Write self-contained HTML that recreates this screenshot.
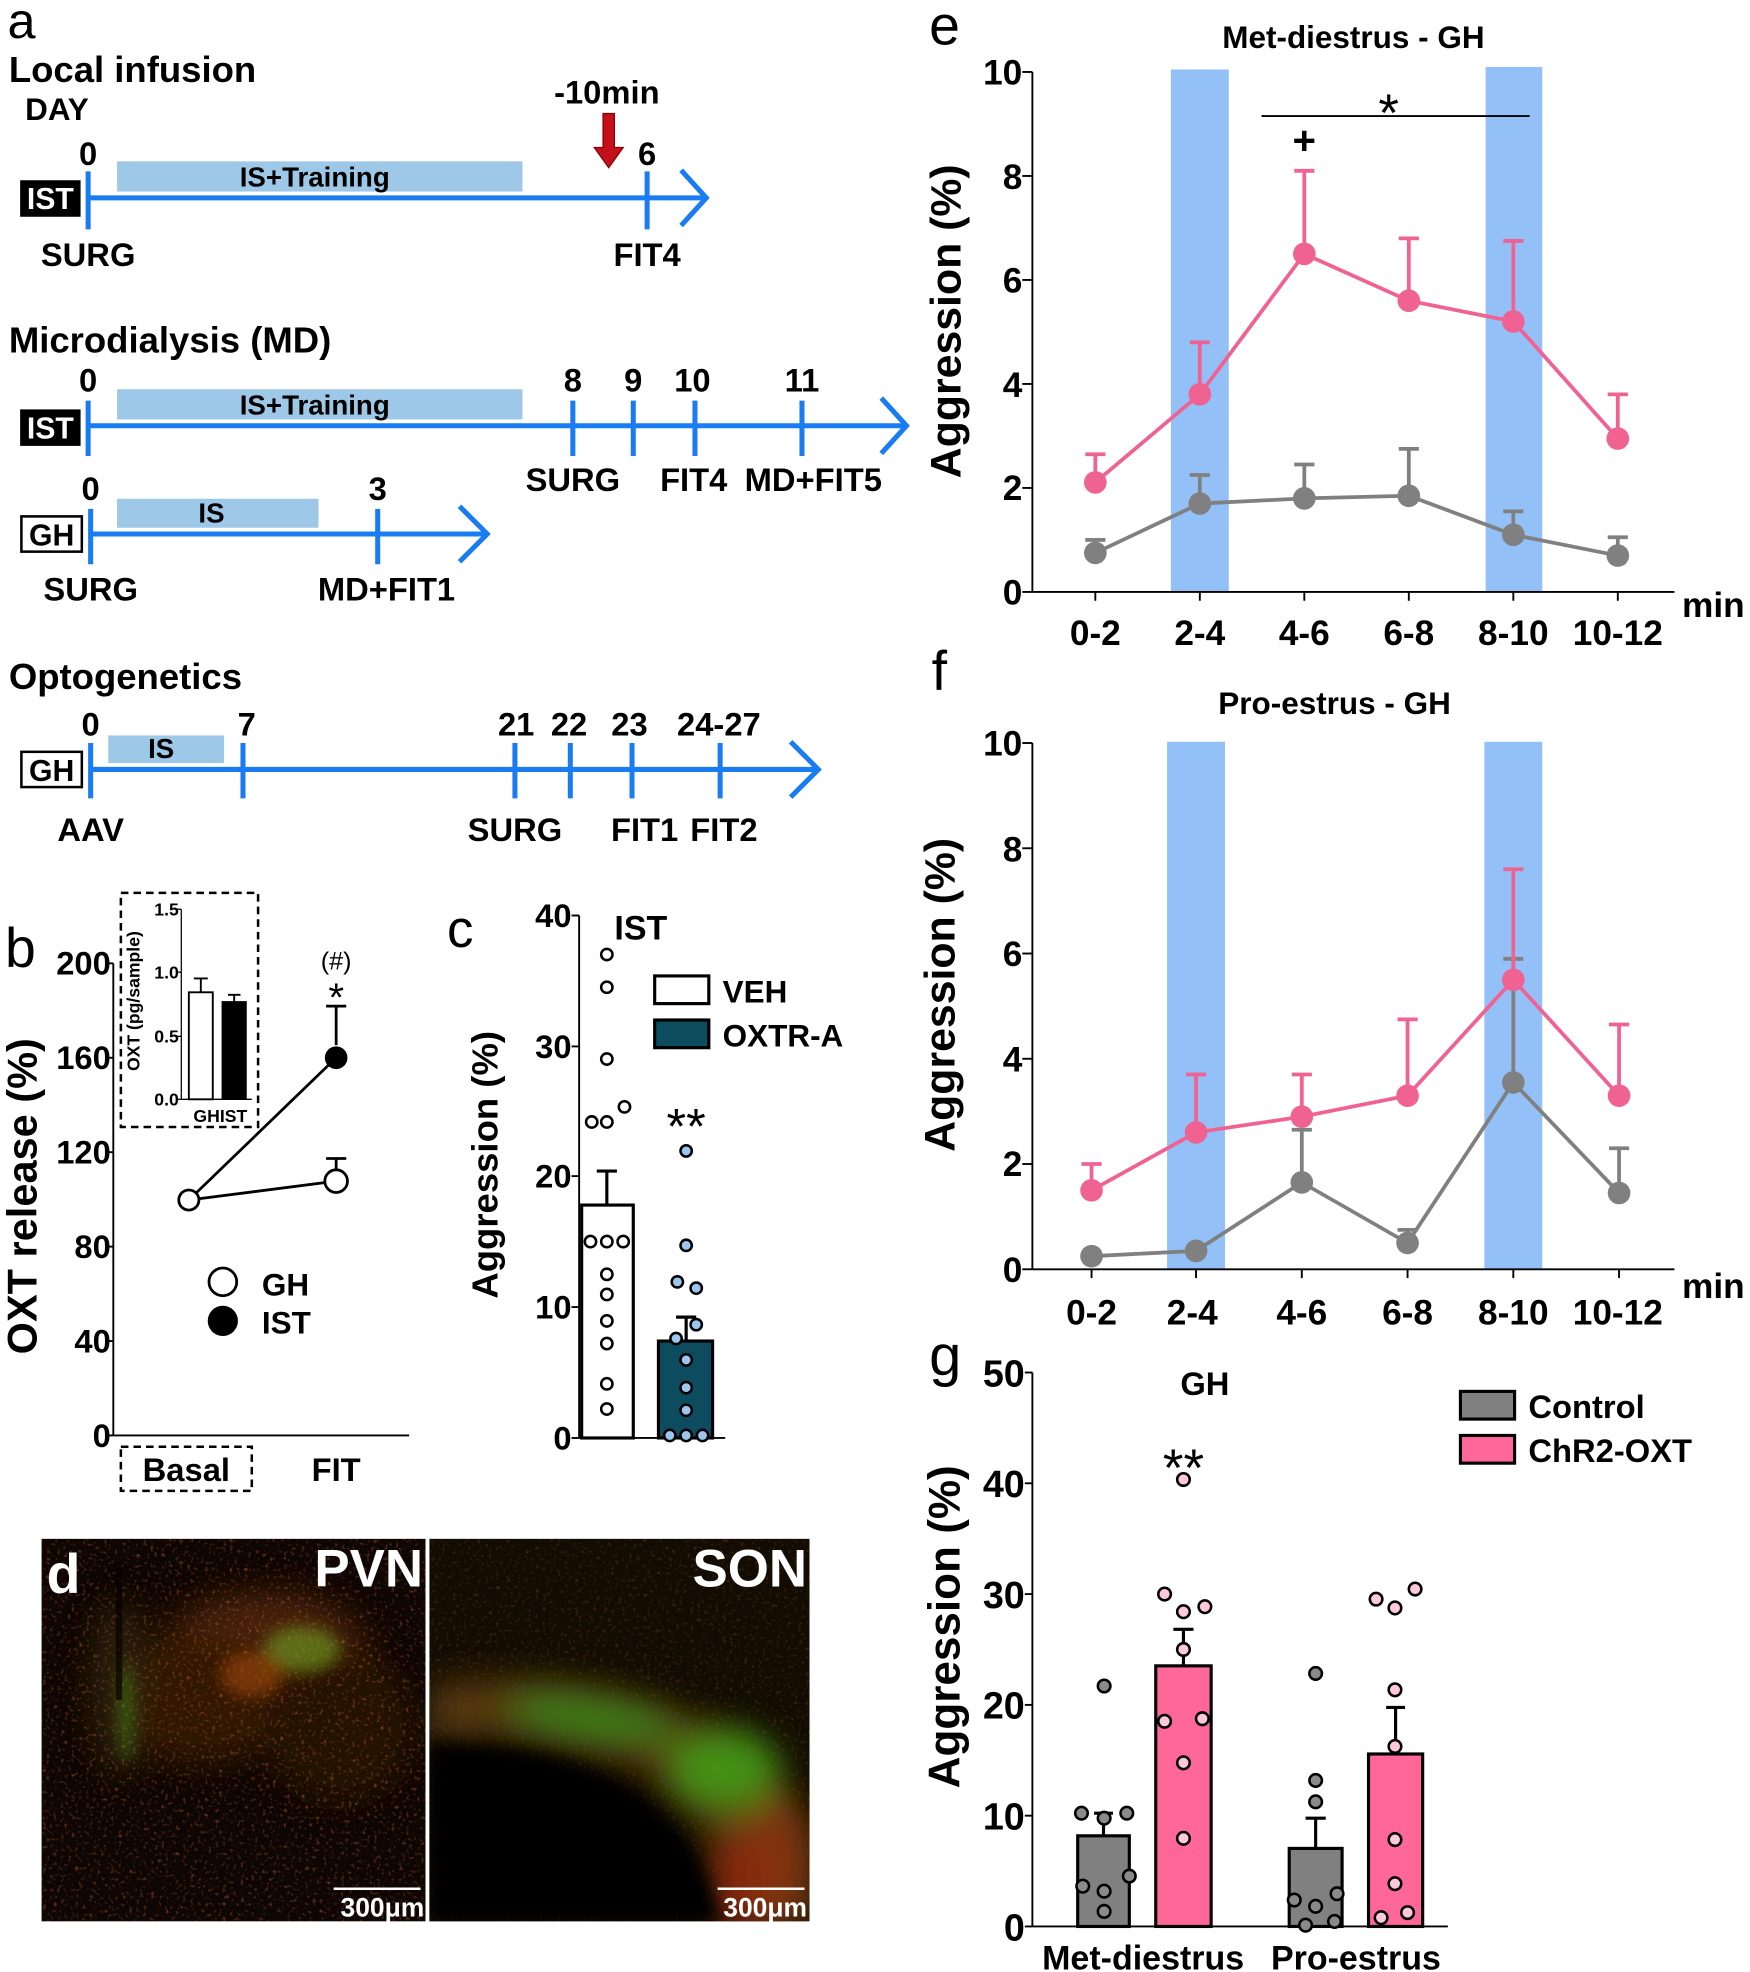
<!DOCTYPE html>
<html><head><meta charset="utf-8"><style>
html,body{margin:0;padding:0;background:#fff}
svg{display:block}
text{font-family:"Liberation Sans",sans-serif;font-weight:bold}
.n{font-family:"Liberation Sans Narrow","Liberation Sans",sans-serif}
</style></head><body>
<svg width="1750" height="1972" viewBox="0 0 1390 1566" xmlns="http://www.w3.org/2000/svg">
<defs>
<filter id="bl" x="-50%" y="-50%" width="200%" height="200%"><feGaussianBlur stdDeviation="14"/></filter>
<filter id="bl2" x="-50%" y="-50%" width="200%" height="200%"><feGaussianBlur stdDeviation="6"/></filter>
<filter id="spk"><feTurbulence type="fractalNoise" baseFrequency="0.35" numOctaves="2" seed="3"/><feColorMatrix type="matrix" values="0 0 0 0 0.9  0 0 0 0 0.2  0 0 0 0 0.05  3 0 0 0 -1.7"/></filter>
<clipPath id="c1"><rect x="33" y="1222" width="305" height="304"/></clipPath>
<clipPath id="c2"><rect x="341" y="1222" width="302" height="304"/></clipPath>
</defs>

<!-- Panel a -->
<text x="6" y="30" font-size="40" style="font-weight:normal">a</text>
<text x="7" y="65" font-size="29">Local infusion</text>
<text x="20" y="95" font-size="25">DAY</text>
<g stroke="#1a7cf2" stroke-width="4" fill="none">
<line x1="70" y1="157" x2="560" y2="157"/><polyline points="541,135 561,157 541,179"/>
<line x1="70" y1="136" x2="70" y2="182"/><line x1="514" y1="136" x2="514" y2="182"/>
<line x1="70" y1="338" x2="720" y2="338"/><polyline points="700,316 720,338 700,360"/>
<line x1="70" y1="318" x2="70" y2="362"/><line x1="455" y1="318" x2="455" y2="362"/><line x1="503" y1="318" x2="503" y2="362"/><line x1="552" y1="318" x2="552" y2="362"/><line x1="637" y1="318" x2="637" y2="362"/>
<line x1="72" y1="424" x2="387" y2="424"/><polyline points="365,402 387,424 365,446"/>
<line x1="72" y1="404" x2="72" y2="448"/><line x1="300" y1="404" x2="300" y2="448"/>
<line x1="72" y1="611" x2="650" y2="611"/><polyline points="628,589 650,611 628,633"/>
<line x1="72" y1="590" x2="72" y2="634"/><line x1="193" y1="590" x2="193" y2="634"/><line x1="409" y1="590" x2="409" y2="634"/><line x1="453" y1="590" x2="453" y2="634"/><line x1="502" y1="590" x2="502" y2="634"/><line x1="572" y1="590" x2="572" y2="634"/>
</g>
<g fill="#9ec8e8"><rect x="93" y="128" width="322" height="24"/><rect x="93" y="309" width="322" height="24"/><rect x="93" y="396" width="160" height="23"/><rect x="86" y="584" width="92" height="22"/></g>
<g font-size="22" text-anchor="middle" class="n"><text x="250" y="148">IS+Training</text><text x="250" y="329">IS+Training</text><text x="168" y="415">IS</text><text x="128" y="602">IS</text></g>
<rect x="16" y="143" width="48" height="29" fill="#000"/><text x="40" y="166" font-size="24" fill="#fff" text-anchor="middle">IST</text>
<rect x="16" y="325" width="48" height="29" fill="#000"/><text x="40" y="348" font-size="24" fill="#fff" text-anchor="middle">IST</text>
<rect x="17" y="410" width="48" height="28" fill="#fff" stroke="#000" stroke-width="2"/><text x="41" y="433" font-size="24" text-anchor="middle">GH</text>
<rect x="17" y="597" width="48" height="28" fill="#fff" stroke="#000" stroke-width="2"/><text x="41" y="620" font-size="24" text-anchor="middle">GH</text>
<g font-size="26" text-anchor="middle">
<text x="70" y="131">0</text><text x="514" y="131">6</text><text x="482" y="82">-10min</text>
<text x="70" y="211">SURG</text><text x="514" y="211">FIT4</text>
<text x="70" y="311">0</text><text x="455" y="311">8</text><text x="503" y="311">9</text><text x="550" y="311">10</text><text x="637" y="311">11</text>
<text x="455" y="390">SURG</text><text x="551" y="390">FIT4</text><text x="646" y="390">MD+FIT5</text>
<text x="72" y="397">0</text><text x="300" y="397">3</text>
<text x="72" y="477">SURG</text><text x="307" y="477">MD+FIT1</text>
<text x="72" y="584">0</text><text x="196" y="584">7</text><text x="410" y="584">21</text><text x="452" y="584">22</text><text x="500" y="584">23</text><text x="571" y="584">24-27</text>
<text x="72" y="668">AAV</text><text x="409" y="668">SURG</text><text x="512" y="668">FIT1</text><text x="575" y="668">FIT2</text>
</g>
<text x="7" y="280" font-size="29">Microdialysis (MD)</text>
<text x="7" y="547" font-size="29">Optogenetics</text>
<polygon points="479,90 488,90 488,117 495,117 483.5,133 472,117 479,117" fill="#c4101a" stroke="#8a0000" stroke-width="1"/>

<!-- Panel b -->
<text x="4" y="768" font-size="44" style="font-weight:normal">b</text>
<g stroke="#000" stroke-width="1.5" fill="none"><line x1="90" y1="765" x2="90" y2="1140"/><line x1="90" y1="1140" x2="325" y2="1140"/>
<line x1="84" y1="765" x2="90" y2="765"/><line x1="84" y1="840" x2="90" y2="840"/><line x1="84" y1="915" x2="90" y2="915"/><line x1="84" y1="990" x2="90" y2="990"/><line x1="84" y1="1065" x2="90" y2="1065"/><line x1="84" y1="1140" x2="90" y2="1140"/></g>
<g font-size="26" text-anchor="end" class="n"><text x="88" y="774">200</text><text x="88" y="849">160</text><text x="88" y="924">120</text><text x="88" y="999">80</text><text x="88" y="1074">40</text><text x="88" y="1149">0</text></g>
<text transform="translate(29,950) rotate(-90)" font-size="33" text-anchor="middle">OXT release (%)</text>
<g stroke="#000" stroke-width="2.2" fill="none"><line x1="150" y1="953" x2="267" y2="938"/><line x1="150" y1="953" x2="267" y2="840"/>
<line x1="267" y1="928" x2="267" y2="920"/><line x1="259" y1="920" x2="275" y2="920"/>
<line x1="267" y1="830" x2="267" y2="799"/><line x1="259" y1="799" x2="275" y2="799"/></g>
<circle cx="150" cy="953" r="8" fill="#fff" stroke="#000" stroke-width="2.2"/>
<circle cx="267" cy="938" r="9" fill="#fff" stroke="#000" stroke-width="2.2"/>
<circle cx="267" cy="840" r="9" fill="#000"/>
<text x="267" y="803" font-size="32" text-anchor="middle" style="font-weight:normal">*</text>
<text x="267" y="770" font-size="20" text-anchor="middle" class="n" style="font-weight:normal">(#)</text>
<circle cx="177" cy="1018" r="11" fill="#fff" stroke="#000" stroke-width="2.2"/><circle cx="177" cy="1049" r="12" fill="#000"/>
<text x="208" y="1029" font-size="25" class="n">GH</text><text x="208" y="1059" font-size="25" class="n">IST</text>
<rect x="96" y="1149" width="104" height="35" fill="none" stroke="#000" stroke-width="2" stroke-dasharray="6,4"/>
<text x="148" y="1176" font-size="26" text-anchor="middle" class="n">Basal</text><text x="267" y="1176" font-size="26" text-anchor="middle" class="n">FIT</text>
<rect x="96" y="709" width="109" height="186" fill="#fff" stroke="#000" stroke-width="2" stroke-dasharray="6,4"/>
<g stroke="#000" stroke-width="1" fill="none"><line x1="144" y1="722" x2="144" y2="873"/><line x1="144" y1="873" x2="200" y2="873"/>
<line x1="140" y1="722" x2="144" y2="722"/><line x1="140" y1="772" x2="144" y2="772"/><line x1="140" y1="823" x2="144" y2="823"/><line x1="140" y1="873" x2="144" y2="873"/></g>
<g font-size="14" text-anchor="end" class="n"><text x="142" y="727">1.5</text><text x="142" y="777">1.0</text><text x="142" y="828">0.5</text><text x="142" y="878">0.0</text></g>
<text transform="translate(111,795) rotate(-90)" font-size="14" text-anchor="middle">OXT (pg/sample)</text>
<rect x="150" y="788" width="19" height="85" fill="#fff" stroke="#000" stroke-width="1.5"/><line x1="159.5" y1="788" x2="159.5" y2="777" stroke="#000" stroke-width="1.5"/><line x1="154" y1="777" x2="165" y2="777" stroke="#000" stroke-width="1.5"/>
<rect x="176" y="795" width="20" height="78" fill="#000"/><line x1="186" y1="795" x2="186" y2="790" stroke="#000" stroke-width="1.5"/><line x1="181" y1="790" x2="191" y2="790" stroke="#000" stroke-width="1.5"/>
<text x="175" y="891" font-size="14" text-anchor="middle" class="n">GHIST</text>

<!-- Panel c -->
<text x="355" y="752" font-size="42" style="font-weight:normal">c</text>
<g stroke="#000" stroke-width="1.5" fill="none"><line x1="460" y1="727" x2="460" y2="1142"/><line x1="460" y1="1142" x2="576" y2="1142"/>
<line x1="454" y1="727" x2="460" y2="727"/><line x1="454" y1="831" x2="460" y2="831"/><line x1="454" y1="934" x2="460" y2="934"/><line x1="454" y1="1038" x2="460" y2="1038"/><line x1="454" y1="1142" x2="460" y2="1142"/></g>
<g font-size="26" text-anchor="end" class="n"><text x="454" y="736">40</text><text x="454" y="840">30</text><text x="454" y="943">20</text><text x="454" y="1047">10</text><text x="454" y="1151">0</text></g>
<text transform="translate(395,925) rotate(-90)" font-size="29" text-anchor="middle">Aggression (%)</text>
<text x="488" y="746" font-size="27" class="n">IST</text>
<rect x="462" y="957" width="41" height="185" fill="#fff" stroke="#000" stroke-width="2.5"/>
<line x1="482" y1="957" x2="482" y2="930" stroke="#000" stroke-width="2.5"/><line x1="474" y1="930" x2="490" y2="930" stroke="#000" stroke-width="2.5"/>
<rect x="523" y="1065" width="43" height="77" fill="#0d4c5f" stroke="#000" stroke-width="2.5"/>
<line x1="545" y1="1065" x2="545" y2="1046" stroke="#000" stroke-width="2.5"/><line x1="537" y1="1046" x2="553" y2="1046" stroke="#000" stroke-width="2.5"/>
<g fill="#fff" stroke="#000" stroke-width="2"><circle cx="482" cy="758" r="4.5"/><circle cx="482" cy="784" r="4.5"/><circle cx="482" cy="841" r="4.5"/><circle cx="496" cy="879" r="4.5"/><circle cx="470" cy="891" r="4.5"/><circle cx="482" cy="891" r="4.5"/><circle cx="469" cy="986" r="4.5"/><circle cx="482" cy="986" r="4.5"/><circle cx="495" cy="986" r="4.5"/><circle cx="482" cy="1012" r="4.5"/><circle cx="482" cy="1028" r="4.5"/><circle cx="482" cy="1049" r="4.5"/><circle cx="482" cy="1067" r="4.5"/><circle cx="482" cy="1099" r="4.5"/><circle cx="482" cy="1119" r="4.5"/></g>
<g fill="#9cc6ee" stroke="#000" stroke-width="2"><circle cx="545" cy="914" r="4.5"/><circle cx="545" cy="989" r="4.5"/><circle cx="538" cy="1018" r="4.5"/><circle cx="553" cy="1023" r="4.5"/><circle cx="553" cy="1052" r="4.5"/><circle cx="537" cy="1063" r="4.5"/><circle cx="545" cy="1080" r="4.5"/><circle cx="545" cy="1102" r="4.5"/><circle cx="545" cy="1120" r="4.5"/><circle cx="532" cy="1140" r="4.5"/><circle cx="545" cy="1140" r="4.5"/><circle cx="558" cy="1140" r="4.5"/></g>
<text x="545" y="908" font-size="40" text-anchor="middle" style="font-weight:normal">**</text>
<rect x="520" y="775" width="43" height="22" fill="#fff" stroke="#000" stroke-width="2.5"/><rect x="520" y="810" width="43" height="22" fill="#0d4c5f" stroke="#000" stroke-width="2.5"/>
<text x="574" y="796" font-size="25" class="n">VEH</text><text x="574" y="831" font-size="25" class="n">OXTR-A</text>

<!-- Panel d -->
<g clip-path="url(#c1)">
<rect x="33" y="1222" width="305" height="304" fill="#0e0602"/>
<g filter="url(#bl)" opacity="0.8"><ellipse cx="210" cy="1310" rx="80" ry="45" fill="#5a2a08"/><ellipse cx="160" cy="1350" rx="70" ry="50" fill="#3a1a06"/><ellipse cx="95" cy="1340" rx="22" ry="70" fill="#352508"/><ellipse cx="270" cy="1370" rx="60" ry="60" fill="#2a1206"/></g>
<rect x="33" y="1222" width="305" height="304" filter="url(#spk)" opacity="0.45"/>
<g filter="url(#bl2)" opacity="0.6"><ellipse cx="240" cy="1310" rx="30" ry="18" fill="#70a020"/><ellipse cx="200" cy="1330" rx="25" ry="18" fill="#a04810"/><ellipse cx="100" cy="1360" rx="6" ry="40" fill="#408018"/></g>
<rect x="92" y="1240" width="5" height="110" fill="#050200" opacity="0.7"/>
</g>
<g clip-path="url(#c2)">
<rect x="341" y="1222" width="302" height="304" fill="#120c03"/>
<rect x="341" y="1222" width="302" height="304" filter="url(#spk)" opacity="0.25"/>
<path d="M341,1340 Q450,1320 560,1370 Q620,1400 643,1460 L643,1526 L590,1526 Q570,1430 500,1400 Q420,1370 341,1380 Z" fill="#5a3a0a" filter="url(#bl)"/>
<g filter="url(#bl)" opacity="0.85"><ellipse cx="470" cy="1365" rx="70" ry="16" fill="#30901a" transform="rotate(8 470 1365)"/><ellipse cx="575" cy="1405" rx="45" ry="32" fill="#40a018"/><ellipse cx="615" cy="1480" rx="25" ry="50" fill="#8a3010"/><ellipse cx="585" cy="1495" rx="20" ry="40" fill="#902810"/></g>
<path d="M341,1385 Q440,1385 500,1420 Q560,1460 570,1526 L341,1526 Z" fill="#040500" filter="url(#bl2)"/>
</g>
<line x1="339.5" y1="1222" x2="339.5" y2="1526" stroke="#fff" stroke-width="2"/>
<text x="37" y="1265" font-size="44" fill="#fff" class="n">d</text>
<text x="336" y="1260" font-size="42" fill="#fff" text-anchor="end">PVN</text>
<text x="641" y="1260" font-size="42" fill="#fff" text-anchor="end">SON</text>
<line x1="265" y1="1500" x2="334" y2="1500" stroke="#fff" stroke-width="2"/><text x="337" y="1522" font-size="21" fill="#fff" text-anchor="end" class="n">300μm</text>
<line x1="570" y1="1500" x2="639" y2="1500" stroke="#fff" stroke-width="2"/><text x="641" y="1522" font-size="21" fill="#fff" text-anchor="end" class="n">300μm</text>

<!-- Panel e -->
<text x="738" y="35" font-size="44" style="font-weight:normal">e</text>
<text x="1075" y="38" font-size="25" text-anchor="middle">Met-diestrus - GH</text>
<rect x="930" y="55" width="46" height="415" fill="#93c1f7"/><rect x="1180" y="53" width="45" height="417" fill="#93c1f7"/>
<g stroke="#000" stroke-width="1.5"><line x1="820" y1="57" x2="820" y2="470"/><line x1="820" y1="470" x2="1330" y2="470"/>
<line x1="812" y1="57" x2="820" y2="57"/><line x1="812" y1="139.6" x2="820" y2="139.6"/><line x1="812" y1="222.2" x2="820" y2="222.2"/><line x1="812" y1="304.8" x2="820" y2="304.8"/><line x1="812" y1="387.4" x2="820" y2="387.4"/><line x1="812" y1="470" x2="820" y2="470"/>
<line x1="870" y1="470" x2="870" y2="477"/><line x1="953" y1="470" x2="953" y2="477"/><line x1="1036" y1="470" x2="1036" y2="477"/><line x1="1119" y1="470" x2="1119" y2="477"/><line x1="1202" y1="470" x2="1202" y2="477"/><line x1="1285" y1="470" x2="1285" y2="477"/>
<line x1="1002" y1="92" x2="1215" y2="92"/></g>
<g font-size="28" text-anchor="end"><text x="812" y="67">10</text><text x="812" y="150">8</text><text x="812" y="232">6</text><text x="812" y="315">4</text><text x="812" y="397">2</text><text x="812" y="480">0</text></g>
<g font-size="28" text-anchor="middle"><text x="870" y="512">0-2</text><text x="953" y="512">2-4</text><text x="1036" y="512">4-6</text><text x="1119" y="512">6-8</text><text x="1202" y="512">8-10</text><text x="1285" y="512">10-12</text></g>
<text x="1336" y="490" font-size="28">min</text>
<text transform="translate(763,255) rotate(-90)" font-size="34" text-anchor="middle">Aggression (%)</text>
<text x="1103" y="104" font-size="42" text-anchor="middle" style="font-weight:normal">*</text>
<text x="1036" y="122" font-size="32" text-anchor="middle">+</text>
<g stroke="#f06292" stroke-width="3" fill="none"><polyline points="870,383 953,313 1036,201.5 1119,238.7 1202,255.2 1285,348.2"/>
<path d="M870,383V360.6M862,360.6H878 M953,313V271.8M945,271.8H961 M1036,201.5V135.5M1028,135.5H1044 M1119,238.7V189.2M1111,189.2H1127 M1202,255.2V191.2M1194,191.2H1210 M1285,348.2V313.1M1277,313.1H1293"/></g>
<g fill="#f06292"><circle cx="870" cy="383" r="9"/><circle cx="953" cy="313" r="9"/><circle cx="1036" cy="201.5" r="9"/><circle cx="1119" cy="238.7" r="9"/><circle cx="1202" cy="255.2" r="9"/><circle cx="1285" cy="348.2" r="9"/></g>
<g stroke="#808080" stroke-width="3" fill="none"><polyline points="870,439 953,399.8 1036,395.7 1119,393.6 1202,424.6 1285,441.1"/>
<path d="M870,439V428.7M862,428.7H878 M953,399.8V377.1M945,377.1H961 M1036,395.7V368.8M1028,368.8H1044 M1119,393.6V356.4M1111,356.4H1127 M1202,424.6V406M1194,406H1210 M1285,441.1V426.6M1277,426.6H1293"/></g>
<g fill="#808080"><circle cx="870" cy="439" r="9"/><circle cx="953" cy="399.8" r="9"/><circle cx="1036" cy="395.7" r="9"/><circle cx="1119" cy="393.6" r="9"/><circle cx="1202" cy="424.6" r="9"/><circle cx="1285" cy="441.1" r="9"/></g>

<!-- Panel f -->
<text x="740" y="548" font-size="44" style="font-weight:normal">f</text>
<text x="1060" y="567" font-size="25" text-anchor="middle">Pro-estrus - GH</text>
<rect x="927" y="589" width="46" height="419" fill="#93c1f7"/><rect x="1179" y="589" width="46" height="419" fill="#93c1f7"/>
<g stroke="#000" stroke-width="1.5"><line x1="820" y1="590" x2="820" y2="1008"/><line x1="820" y1="1008" x2="1330" y2="1008"/>
<line x1="812" y1="590" x2="820" y2="590"/><line x1="812" y1="673.6" x2="820" y2="673.6"/><line x1="812" y1="757.2" x2="820" y2="757.2"/><line x1="812" y1="840.8" x2="820" y2="840.8"/><line x1="812" y1="924.4" x2="820" y2="924.4"/><line x1="812" y1="1008" x2="820" y2="1008"/>
<line x1="867" y1="1008" x2="867" y2="1015"/><line x1="950" y1="1008" x2="950" y2="1015"/><line x1="1034" y1="1008" x2="1034" y2="1015"/><line x1="1118" y1="1008" x2="1118" y2="1015"/><line x1="1202" y1="1008" x2="1202" y2="1015"/><line x1="1286" y1="1008" x2="1286" y2="1015"/></g>
<g font-size="28" text-anchor="end"><text x="812" y="600">10</text><text x="812" y="684">8</text><text x="812" y="767">6</text><text x="812" y="851">4</text><text x="812" y="934">2</text><text x="812" y="1018">0</text></g>
<g font-size="28" text-anchor="middle"><text x="867" y="1052">0-2</text><text x="947" y="1052">2-4</text><text x="1034" y="1052">4-6</text><text x="1118" y="1052">6-8</text><text x="1202" y="1052">8-10</text><text x="1285" y="1052">10-12</text></g>
<text x="1336" y="1031" font-size="28">min</text>
<text transform="translate(758,790) rotate(-90)" font-size="34" text-anchor="middle">Aggression (%)</text>
<g stroke="#808080" stroke-width="3" fill="none"><polyline points="867,997.6 950,993.4 1034,939 1118,987.1 1202,859.6 1286,947.4"/>
<path d="M1034,939V897.2M1026,897.2H1042 M1118,987.1V976.7M1110,976.7H1126 M1202,859.6V761.4M1194,761.4H1210 M1286,947.4V911.9M1278,911.9H1294"/></g>
<g fill="#808080"><circle cx="867" cy="997.6" r="9"/><circle cx="950" cy="993.4" r="9"/><circle cx="1034" cy="939" r="9"/><circle cx="1118" cy="987.1" r="9"/><circle cx="1202" cy="859.6" r="9"/><circle cx="1286" cy="947.4" r="9"/></g>
<g stroke="#f06292" stroke-width="3" fill="none"><polyline points="867,945.3 950,899.3 1034,886.8 1118,870.1 1202,778.1 1286,870.1"/>
<path d="M867,945.3V924.4M859,924.4H875 M950,899.3V853.3M942,853.3H958 M1034,886.8V853.3M1026,853.3H1042 M1118,870.1V809.5M1110,809.5H1126 M1202,778.1V690.3M1194,690.3H1210 M1286,870.1V813.6M1278,813.6H1294"/></g>
<g fill="#f06292"><circle cx="867" cy="945.3" r="9"/><circle cx="950" cy="899.3" r="9"/><circle cx="1034" cy="886.8" r="9"/><circle cx="1118" cy="870.1" r="9"/><circle cx="1202" cy="778.1" r="9"/><circle cx="1286" cy="870.1" r="9"/></g>

<!-- Panel g -->
<text x="738" y="1092" font-size="46" style="font-weight:normal">g</text>
<g stroke="#000" stroke-width="1.5"><line x1="820" y1="1090" x2="820" y2="1530"/><line x1="820" y1="1530" x2="1150" y2="1530"/>
<line x1="814" y1="1090" x2="820" y2="1090"/><line x1="814" y1="1178" x2="820" y2="1178"/><line x1="814" y1="1266" x2="820" y2="1266"/><line x1="814" y1="1354" x2="820" y2="1354"/><line x1="814" y1="1442" x2="820" y2="1442"/><line x1="814" y1="1530" x2="820" y2="1530"/></g>
<g font-size="30" text-anchor="end" class="n"><text x="814" y="1101">50</text><text x="814" y="1189">40</text><text x="814" y="1277">30</text><text x="814" y="1365">20</text><text x="814" y="1453">10</text><text x="814" y="1541">0</text></g>
<text transform="translate(762,1292) rotate(-90)" font-size="35" text-anchor="middle">Aggression (%)</text>
<text x="957" y="1108" font-size="26" text-anchor="middle" class="n">GH</text>
<text x="940" y="1180" font-size="42" text-anchor="middle" style="font-weight:normal">**</text>
<g stroke="#000" stroke-width="2.5"><rect x="856" y="1458" width="41" height="72" fill="#808080"/><rect x="918" y="1323" width="44" height="207" fill="#ff6699"/><rect x="1024" y="1468" width="42" height="62" fill="#808080"/><rect x="1087" y="1393" width="43" height="137" fill="#ff6699"/>
<path d="M876.5,1458V1440M869,1440H884 M940,1323V1294M932,1294H948 M1045,1468V1444M1037,1444H1053 M1108.5,1393V1356M1101,1356H1116" fill="none"/></g>
<g fill="#8a8a8a" stroke="#000" stroke-width="2"><circle cx="877" cy="1339" r="5"/><circle cx="859" cy="1440" r="5"/><circle cx="895" cy="1440" r="5"/><circle cx="877" cy="1444" r="5"/><circle cx="897" cy="1490" r="5"/><circle cx="860" cy="1498" r="5"/><circle cx="877" cy="1502" r="5"/><circle cx="877" cy="1518" r="5"/>
<circle cx="1045" cy="1329" r="5"/><circle cx="1045" cy="1414" r="5"/><circle cx="1045" cy="1431" r="5"/><circle cx="1062" cy="1504" r="5"/><circle cx="1028" cy="1509" r="5"/><circle cx="1045" cy="1514" r="5"/><circle cx="1060" cy="1526" r="5"/><circle cx="1037" cy="1529" r="5"/></g>
<g fill="#ffc8dc" stroke="#000" stroke-width="2"><circle cx="940" cy="1175" r="5"/><circle cx="925" cy="1266" r="5"/><circle cx="940" cy="1280" r="5"/><circle cx="957" cy="1276" r="5"/><circle cx="940" cy="1310" r="5"/><circle cx="925" cy="1367" r="5"/><circle cx="955" cy="1365" r="5"/><circle cx="940" cy="1400" r="5"/><circle cx="940" cy="1460" r="5"/>
<circle cx="1124" cy="1262" r="5"/><circle cx="1093" cy="1270" r="5"/><circle cx="1108" cy="1277" r="5"/><circle cx="1108" cy="1342" r="5"/><circle cx="1108" cy="1387" r="5"/><circle cx="1108" cy="1461" r="5"/><circle cx="1108" cy="1496" r="5"/><circle cx="1118" cy="1519" r="5"/><circle cx="1097" cy="1523" r="5"/></g>
<g font-size="27" text-anchor="middle" class="n"><text x="908" y="1564">Met-diestrus</text><text x="1077" y="1564">Pro-estrus</text></g>
<rect x="1160" y="1105" width="43" height="22" fill="#808080" stroke="#000" stroke-width="2.5"/><rect x="1160" y="1140" width="43" height="22" fill="#ff6699" stroke="#000" stroke-width="2.5"/>
<text x="1214" y="1126" font-size="26" class="n">Control</text><text x="1214" y="1161" font-size="26" class="n">ChR2-OXT</text>
</svg>
</body></html>
